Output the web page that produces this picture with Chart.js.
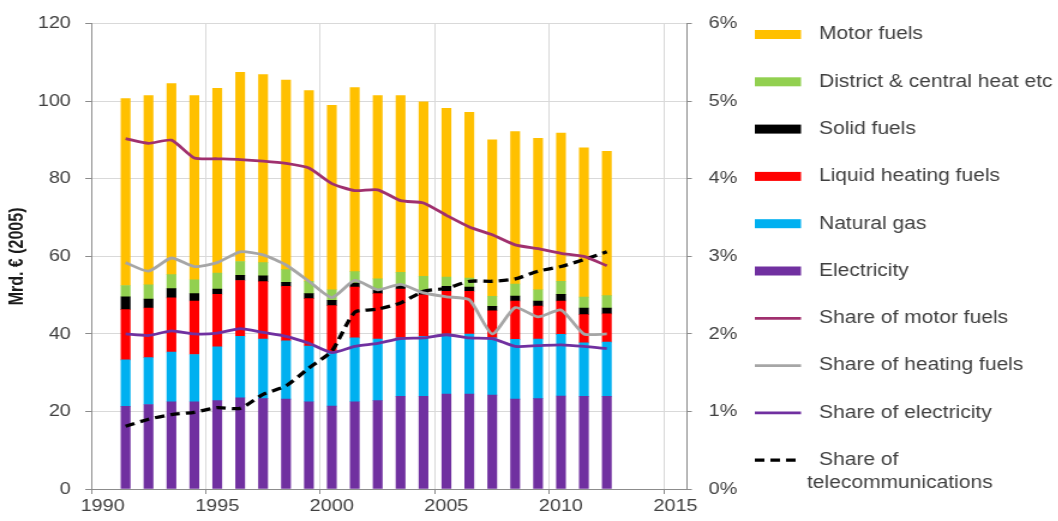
<!DOCTYPE html>
<html><head><meta charset="utf-8">
<script src="https://cdn.jsdelivr.net/npm/chart.js@4/dist/chart.umd.min.js"></script>
<style>
html,body{margin:0;padding:0;background:#fff;overflow:hidden;}
#wrap{position:absolute;left:0;top:0;width:882px;height:521px;transform:scaleX(1.2);transform-origin:0 0;}
</style></head><body>
<div id="wrap"><canvas id="c"></canvas></div>
<script>
const years = [1991,1992,1993,1994,1995,1996,1997,1998,1999,2000,2001,2002,2003,2004,2005,2006,2007,2008,2009,2010,2011,2012];
const electricity = [21.3,21.8,22.5,22.5,22.8,23.5,23.3,23.2,22.5,21.4,22.5,22.8,23.9,23.9,24.5,24.5,24.2,23.2,23.3,24.0,23.9,23.9];
const naturalGas  = [12.0,12.1,12.8,12.2,13.9,15.9,15.4,15.0,14.4,13.7,16.5,15.9,15.1,15.5,15.5,15.5,14.8,15.4,15.4,15.9,13.8,14.0];
const liquidHeatingFuels = [13.0,12.8,14.0,13.8,13.5,14.4,14.8,14.1,12.2,12.2,13.1,11.7,12.6,10.7,11.0,11.0,7.0,9.9,8.5,8.6,7.3,7.3];
const solidFuels  = [3.3,2.3,2.4,1.9,1.4,1.3,1.5,1.0,1.3,1.4,1.0,1.0,0.9,1.1,1.3,1.1,1.1,1.3,1.3,1.7,1.7,1.5];
const districtHeat = [2.9,3.7,3.6,3.6,4.1,3.6,3.4,3.3,3.2,2.7,3.0,2.8,3.4,3.7,2.4,2.3,2.6,3.1,2.9,3.4,2.8,3.2];
const motorFuels  = [48.2,48.8,49.3,47.5,47.7,48.8,48.5,48.9,49.2,47.6,47.5,47.3,45.6,45.0,43.5,42.8,40.4,39.3,39.1,38.2,38.5,37.2];
const shareMotorFuels   = [4.52,4.46,4.50,4.27,4.26,4.25,4.23,4.20,4.14,3.94,3.85,3.86,3.72,3.69,3.53,3.38,3.28,3.15,3.10,3.04,3.00,2.88];
const shareHeatingFuels = [2.92,2.81,2.98,2.87,2.92,3.06,3.02,2.89,2.68,2.47,2.69,2.57,2.64,2.53,2.48,2.44,2.00,2.34,2.22,2.31,2.00,2.00];
const shareElectricity  = [2.00,1.98,2.04,2.00,2.01,2.07,2.02,1.97,1.88,1.76,1.84,1.88,1.94,1.95,1.99,1.95,1.94,1.84,1.85,1.86,1.84,1.81];
const shareTelecom      = [0.81,0.90,0.96,0.99,1.05,1.04,1.22,1.33,1.56,1.78,2.28,2.32,2.40,2.55,2.59,2.68,2.68,2.71,2.81,2.87,2.96,3.06];
const leftTicks = {min:0, max:120, step:20};
const rightTicks = {min:0, max:6, step:1};
const xRange = {min:1990, max:2016, step:5};

const FONT = "'Liberation Sans', Arial, sans-serif";
const TXT = '#404040';
const AXIS = '#8c8c8c';
const GRID = '#d9d9d9';

const pts = arr => arr.map((v,i) => ({x: years[i] + 0.5, y: v}));
const bar = (label, arr, color) => ({type:'bar', label, data: pts(arr), backgroundColor: color, borderWidth: 0, barThickness: 7.5, yAxisID:'y', order: 1});
const line = (label, arr, color, extra) => Object.assign({type:'line', label, data: pts(arr), borderColor: color, backgroundColor: color, borderWidth: 2.8, pointRadius: 0, tension: 0.2, fill:false, yAxisID:'y1', order: 0}, extra||{});

const datasets = [
  bar('Electricity', electricity, '#7030A0'),
  bar('Natural gas', naturalGas, '#00B0F0'),
  bar('Liquid heating fuels', liquidHeatingFuels, '#FF0000'),
  bar('Solid fuels', solidFuels, '#000000'),
  bar('District & central heat etc', districtHeat, '#92D050'),
  bar('Motor fuels', motorFuels, '#FFC000'),
  line('Share of motor fuels', shareMotorFuels, '#A0306E'),
  line('Share of heating fuels', shareHeatingFuels, '#A6A6A6'),
  line('Share of electricity', shareElectricity, '#7030A0'),
  line('Share of telecommunications', shareTelecom, '#000000', {borderDash:[8,5], borderWidth:3.3})
];

const legendOrder = ['Motor fuels','District & central heat etc','Solid fuels','Liquid heating fuels','Natural gas','Electricity','Share of motor fuels','Share of heating fuels','Share of electricity','Share of telecommunications'];
const legendLines = {'Share of telecommunications': ['Share of','telecommunications']};

const sideLegend = {
  id: 'sideLegend',
  afterDraw(chart) {
    const ctx = chart.ctx;
    const x0 = 629, sw = 38.5, tx = 682.5, y0 = 34.5, dy = 47.3;
    ctx.save();
    ctx.font = '17.5px ' + FONT;
    ctx.fillStyle = TXT;
    ctx.textBaseline = 'middle';
    legendOrder.forEach((lab, i) => {
      const ds = chart.data.datasets.find(d => d.label === lab);
      const y = y0 + i * dy;
      if (ds.type === 'bar') {
        ctx.fillStyle = ds.backgroundColor;
        ctx.fillRect(x0, y - 4.5, sw, 9);
      } else {
        ctx.strokeStyle = ds.borderColor;
        ctx.lineWidth = ds.borderWidth;
        ctx.setLineDash(ds.borderDash || []);
        ctx.beginPath(); ctx.moveTo(x0, y); ctx.lineTo(x0 + sw, y); ctx.stroke();
        ctx.setLineDash([]);
      }
      ctx.fillStyle = TXT;
      const lines = legendLines[lab];
      if (lines) {
        ctx.fillText(lines[0], tx, y);
        ctx.fillText(lines[1], tx - 10, y + 23);
      } else {
        ctx.fillText(lab, tx, y);
      }
    });
    ctx.restore();
  }
};

new Chart(document.getElementById('c'), {
  data: { datasets },
  plugins: [sideLegend],
  options: {
    responsive: true, maintainAspectRatio: false, animation: false,
    layout: {padding: {left: 0, right: 259.5, top: 23, bottom: 0}},
    plugins: {legend: {display: false}, tooltip: {enabled: false}},
    scales: {
      x: {
        type: 'linear', min: xRange.min, max: xRange.max, stacked: true, offset: false,
        afterFit: s => { s.height = 32; },
        grid: {color: GRID, tickColor: AXIS, tickLength: 5, offset: false},
        border: {color: AXIS, width: 1},
        ticks: {stepSize: xRange.step, includeBounds: false, labelOffset: 9.5, padding: 3, color: TXT,
                font: {family: FONT, size: 16.5}, maxRotation: 0, autoSkip: false,
                callback: v => String(v)}
      },
      y: {
        position: 'left', stacked: true, min: leftTicks.min, max: leftTicks.max,
        afterFit: s => { s.width = 76; },
        grid: {color: GRID, tickColor: AXIS, tickLength: 5},
        border: {color: AXIS, width: 1},
        ticks: {stepSize: leftTicks.step, padding: 12, color: TXT, font: {family: FONT, size: 16.5}},
        title: {display: true, text: 'Mrd. € (2005)', color: '#1a1a1a', font: {family: FONT, size: 16, weight: 'bold'}, padding: {top: 5, bottom: 0}}
      },
      y1: {
        position: 'right', min: rightTicks.min, max: rightTicks.max,
        afterFit: s => { s.width = 50; },
        grid: {drawOnChartArea: false, tickColor: AXIS, tickLength: 4},
        border: {color: AXIS, width: 1},
        ticks: {stepSize: rightTicks.step, padding: 14, color: TXT, font: {family: FONT, size: 16.5}, callback: v => v + '%'}
      }
    }
  }
});
</script>
</body></html>
